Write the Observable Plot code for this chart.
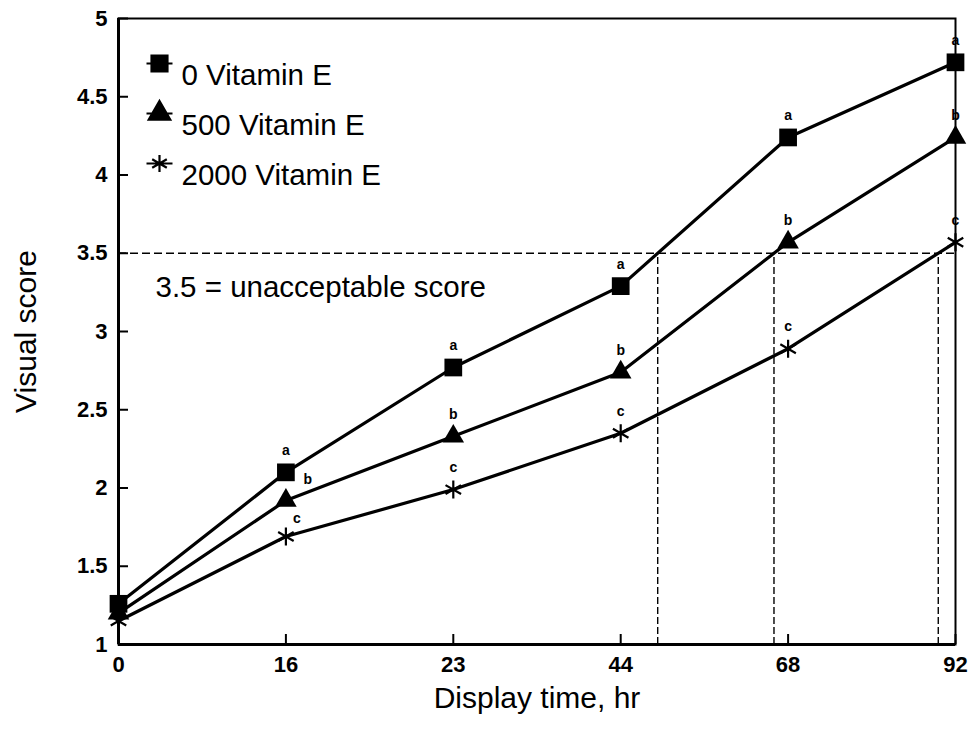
<!DOCTYPE html>
<html><head><meta charset="utf-8">
<script src="https://cdn.jsdelivr.net/npm/d3@7"></script>
<script src="https://cdn.jsdelivr.net/npm/@observablehq/plot@0.6"></script>
<style>body{margin:0;background:#fff}</style>
</head><body><div id="chart"></div>
<script>
// ---- data ----
const times = ["0", "16", "23", "44", "68", "92"];          // display time, hr (equally spaced categories)
const seriesNames = ["0 Vitamin E", "500 Vitamin E", "2000 Vitamin E"];
const vitE0    = [1.26, 2.10, 2.77, 3.29, 4.24, 4.72];
const vitE500  = [1.20, 1.92, 2.33, 2.74, 3.57, 4.24];
const vitE2000 = [1.15, 1.69, 1.99, 2.35, 2.89, 3.57];
const sig0    = ["", "a", "a", "a", "a", "a"];
const sig500  = ["", "b", "b", "b", "b", "b"];
const sig2000 = ["", "c", "c", "c", "c", "c"];
const yTicks = [1, 1.5, 2, 2.5, 3, 3.5, 4, 4.5, 5];
const threshold = 3.5;
const thresholdLabel = "3.5 = unacceptable score";
const xTitle = "Display time, hr";
const yTitle = "Visual score";

// ---- tables built from the arrays ----
const values = [vitE0, vitE500, vitE2000];
const sigs = [sig0, sig500, sig2000];
const rows = [];
values.forEach((vals, s) => vals.forEach((v, i) => rows.push({series: seriesNames[s], s, i, v, sig: sigs[s][i]})));

// where each series first crosses the threshold (linear interpolation between neighbours)
const crossings = values.map((vals, s) => {
  for (let i = 0; i < vals.length - 1; i++) {
    if (vals[i] < threshold && vals[i + 1] >= threshold)
      return {series: seriesNames[s], x: i + (threshold - vals[i]) / (vals[i + 1] - vals[i])};
  }
  return null;
}).filter(Boolean);

const font = '"Liberation Sans", Arial, Helvetica, sans-serif';

// legend symbols with a short line through them
const withStub = (base, half) => ({
  draw(ctx, size) { base.draw(ctx, size); ctx.moveTo(-half, 0); ctx.lineTo(half, 0); }
});
const legendSymbols = [withStub(d3.symbolSquare, 13), withStub(d3.symbolTriangle, 13), withStub(d3.symbolAsterisk, 13)];

const letters = rows.filter(d => d.sig);
const rightOf500 = letters.filter(d => d.i === 1 && d.s === 1);
const rightOf2000 = letters.filter(d => d.i === 1 && d.s === 2);
const above = letters.filter(d => !(d.i === 1 && d.s > 0));

const marks = [
  // dashed threshold lines
  Plot.ruleY([threshold], {stroke: "black", strokeWidth: 1.6, strokeDasharray: "8,4"}),
  Plot.ruleX(crossings, {x: "x", y1: 1, y2: threshold, stroke: "black", strokeWidth: 1.4, strokeDasharray: "7,3"}),
  // series lines
  Plot.line(rows, {x: "i", y: "v", z: "series", stroke: "black", strokeWidth: 3.2}),
  // markers
  Plot.dot(rows.filter(d => d.s === 0), {x: "i", y: "v", symbol: "square", r: 10, fill: "black"}),
  Plot.dot(rows.filter(d => d.s === 1), {x: "i", y: "v", symbol: "triangle", r: 8, fill: "black"}),
  Plot.dot(rows.filter(d => d.s === 2), {x: "i", y: "v", symbol: "asterisk", r: 8.5, fill: "none", stroke: "black", strokeWidth: 2.2}),
  // significance letters
  Plot.text(above, {x: "i", y: "v", text: "sig", dy: -22, fontSize: 14, fontWeight: "bold", fill: "black"}),
  Plot.text(rightOf500, {x: "i", y: "v", text: "sig", dx: 22, dy: -21, fontSize: 14, fontWeight: "bold", fill: "black"}),
  Plot.text(rightOf2000, {x: "i", y: "v", text: "sig", dx: 11, dy: -18, fontSize: 14, fontWeight: "bold", fill: "black"}),
  // threshold annotation
  Plot.text([{x: 0, y: threshold, t: thresholdLabel}], {x: "x", y: "y", text: "t", dx: 37, dy: 34, textAnchor: "start", fontSize: 29.5, fill: "black"}),
  // frame and thick axes
  Plot.frame({stroke: "black", strokeWidth: 2}),
  Plot.ruleX([0], {stroke: "black", strokeWidth: 3}),
  Plot.ruleY([1], {stroke: "black", strokeWidth: 3}),
  // inward ticks
  Plot.axisY({ticks: yTicks, tickSize: 10, dx: 10, tickFormat: () => "", label: null, strokeWidth: 2}),
  Plot.axisX({ticks: d3.range(times.length), tickSize: 10, dy: -10, tickFormat: () => "", label: null, strokeWidth: 2}),
  // tick labels
  Plot.axisY({ticks: yTicks, tickSize: 0, tickPadding: 11, fontSize: 22, fontWeight: "bold", tickFormat: d => String(d), label: null}),
  Plot.axisX({ticks: d3.range(times.length), tickSize: 0, tickPadding: 12, fontSize: 22, fontWeight: "bold", tickFormat: i => times[i], label: null}),
  // axis titles
  Plot.text([yTitle], {frameAnchor: "left", textAnchor: "middle", dx: -92, rotate: -90, fontSize: 30, fill: "black"}),
  Plot.text([xTitle], {frameAnchor: "bottom", textAnchor: "middle", dy: 63, fontSize: 30, fill: "black"})
];

// legend inside the plot (top-left)
seriesNames.forEach((name, k) => {
  marks.push(Plot.dot([name], {frameAnchor: "top-left", dx: 41, dy: 45 + 50 * k, symbol: legendSymbols[k],
    r: k === 0 ? 9 : 8, fill: k === 2 ? "none" : "black", stroke: "black", strokeWidth: 2.2}));
  marks.push(Plot.text([name], {frameAnchor: "top-left", dx: 63, dy: 46 + 50 * k, textAnchor: "start", fontSize: 29.5, fill: "black"}));
});

const chart = Plot.plot({
  width: 973,
  height: 730,
  marginLeft: 118,
  marginRight: 18,
  marginTop: 18,
  marginBottom: 86,
  style: {fontFamily: font, background: "white", color: "black"},
  x: {domain: [0, times.length - 1], axis: null},
  y: {domain: [1, 5], axis: null},
  marks
});
document.getElementById("chart").appendChild(chart);
</script>
</body></html>
